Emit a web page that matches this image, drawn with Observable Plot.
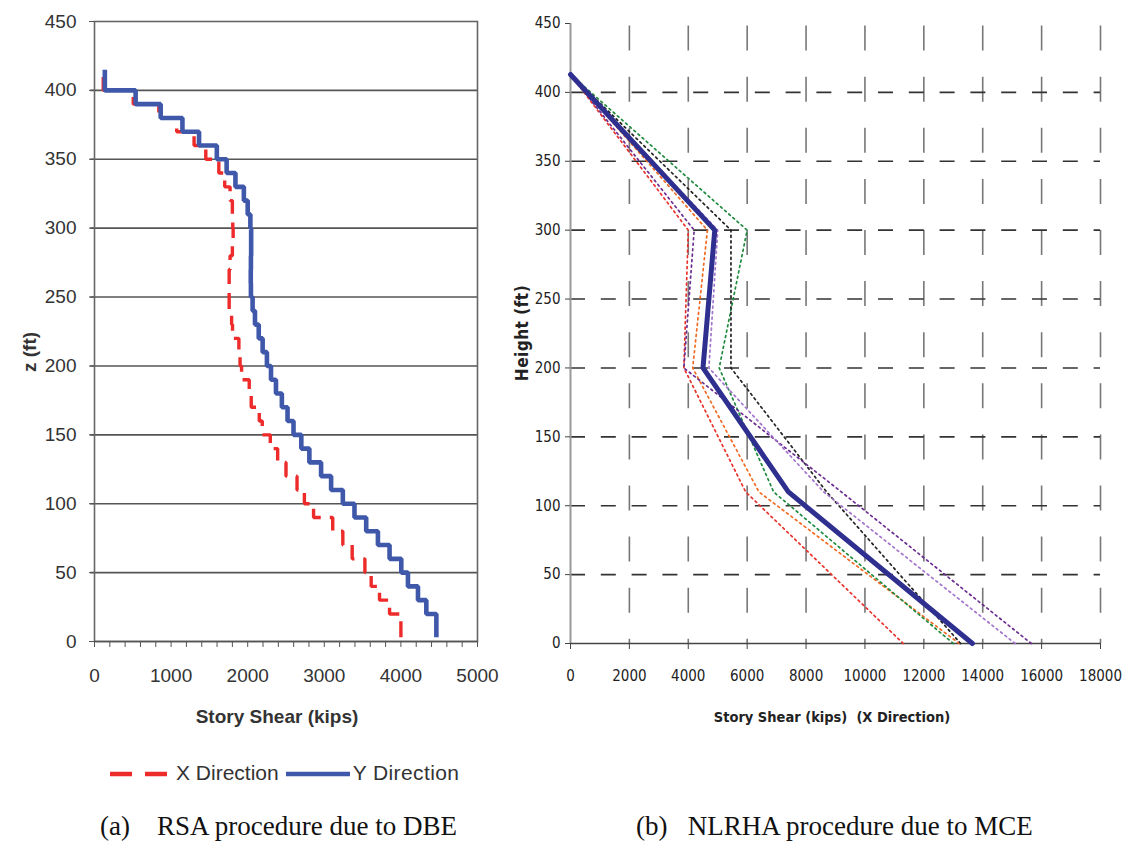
<!DOCTYPE html>
<html>
<head>
<meta charset="utf-8">
<script src="https://cdn.jsdelivr.net/npm/d3@7"></script>
<script src="https://cdn.jsdelivr.net/npm/@observablehq/plot@0.6"></script>
<style>
  html, body { margin: 0; padding: 0; background: #fff; }
  #page { position: relative; width: 1124px; height: 841px; overflow: hidden; background: #fff; }
  .abs { position: absolute; white-space: nowrap; }
  .lt { font-family: "Liberation Sans", Arial, sans-serif; color: #333; }
  .nr { font-family: "Liberation Sans Narrow", "Arial Narrow", "DejaVu Sans Condensed", sans-serif; color: #222; }
  .cap { font-family: "Liberation Serif", "Times New Roman", serif; color: #111; font-size: 27px; }
</style>
</head>
<body>
<div id="page"></div>
<script>
// ---------------- Data: (a) RSA procedure due to DBE ----------------
// story boundary elevations (ft), bottom to top
const floorZ = [3, 20, 30, 40, 50, 60, 70, 80, 90, 100, 110, 120, 130, 140, 150, 160, 170, 180, 190, 200,
  210, 220, 230, 240, 250, 260, 270, 280, 290, 300, 310, 320, 330, 340, 350, 360, 370, 380, 390, 400, 415];
// story shear (kips) per story, bottom to top
const shearXDir = [4000, 3852, 3721, 3612, 3530, 3364, 3242, 3110, 2860, 2740, 2644, 2500, 2391, 2295, 2190, 2151, 2046, 2020, 1920,
  1900, 1885, 1802, 1790, 1758, 1758, 1758, 1770, 1800, 1810, 1805, 1800, 1770, 1700, 1623, 1453, 1300, 1073, 840, 506, 114];
const shearYDir = [4463, 4332, 4223, 4092, 4005, 3852, 3700, 3547, 3394, 3242, 3089, 2958, 2805, 2700, 2598, 2520, 2446, 2369, 2304,
  2251, 2195, 2144, 2095, 2064, 2042, 2040, 2042, 2045, 2045, 2035, 2000, 1950, 1840, 1725, 1597, 1365, 1148, 864, 537, 135];
const xTicksA = [0, 1000, 2000, 3000, 4000, 5000];
const xMinorA = [0, 200, 400, 600, 800, 1000, 1200, 1400, 1600, 1800, 2000, 2200, 2400, 2600, 2800, 3000, 3200, 3400, 3600, 3800, 4000, 4200, 4400, 4600, 4800, 5000];
const yTicksA = [0, 50, 100, 150, 200, 250, 300, 350, 400, 450];

// ---------------- Data: (b) NLRHA procedure due to MCE ----------------
const heightsB = [0, 110, 200, 300, 413];
const meanShear = [13650, 7400, 4500, 4900, 0];
const gmRed = [11300, 5950, 3850, 4000, 0];
const gmOrange = [13200, 6400, 4150, 4650, 0];
const gmGreen = [13000, 6900, 5050, 6000, 0];
const gmBlack = [13250, 8700, 5450, 5450, 0];
const gmPurpleDark = [15650, 9200, 3850, 4200, 0];
const gmPurpleLight = [15100, 8600, 4700, 5000, 0];
const xTicksB = [0, 2000, 4000, 6000, 8000, 10000, 12000, 14000, 16000, 18000];
const yTicksB = [0, 50, 100, 150, 200, 250, 300, 350, 400, 450];

const page = document.getElementById("page");

function stepPoints(vals) {
  const pts = [];
  vals.forEach((v, i) => { pts.push({v, z: floorZ[i]}); pts.push({v, z: floorZ[i + 1]}); });
  return pts;
}
function profile(vals) { return vals.map((v, i) => ({v, z: heightsB[i]})); }

// ---------------- Chart (a) ----------------
const chartA = Plot.plot({
  width: 500, height: 700,
  marginLeft: 94, marginRight: 23, marginTop: 21, marginBottom: 59,
  x: {domain: [0, 5000]},
  y: {domain: [0, 450]},
  style: {fontFamily: "'Liberation Sans', Arial, sans-serif", fontSize: "19px", color: "#333", background: "transparent", overflow: "visible"},
  marks: [
    Plot.ruleY(yTicksA.filter(d => d > 0 && d < 450), {stroke: "#555", strokeWidth: 1.6, x1: -50, x2: 5000}),
    Plot.frame({stroke: "#666", strokeWidth: 1.6}),
    Plot.ruleY([0], {stroke: "#555", strokeWidth: 1.6}),
    Plot.axisX({ticks: xMinorA, tickSize: 6, tickPadding: 21, tickFormat: d => xTicksA.includes(d) ? String(d) : "", label: null, stroke: "#555"}),
    Plot.axisY({ticks: yTicksA, tickSize: 5, tickPadding: 13, label: null, stroke: "#555"}),
    Plot.line(stepPoints(shearXDir), {x: "v", y: "z", stroke: "#ee2b2b", strokeWidth: 3.4, strokeDasharray: "16,9", strokeLinejoin: "miter", strokeLinecap: "butt"}),
    Plot.line(stepPoints(shearYDir), {x: "v", y: "z", stroke: "#3f58aa", strokeWidth: 4.6, strokeLinejoin: "miter", strokeLinecap: "butt"})
  ]
});
chartA.style.position = "absolute";
chartA.style.left = "0px";
chartA.style.top = "0px";
page.appendChild(chartA);

// ---------------- Chart (b) ----------------
const dotted = [
  [gmRed, "#e8322b"],
  [gmOrange, "#f26a21"],
  [gmGreen, "#1e8a3e"],
  [gmBlack, "#222222"],
  [gmPurpleDark, "#6b2d90"],
  [gmPurpleLight, "#a274cc"]
];
const chartB = Plot.plot({
  width: 624, height: 700,
  marginLeft: 70, marginRight: 24, marginTop: 23, marginBottom: 57,
  x: {domain: [0, 18000]},
  y: {domain: [0, 450]},
  style: {fontFamily: "'Liberation Sans Narrow', 'Arial Narrow', 'DejaVu Sans Condensed', sans-serif", fontSize: "15px", color: "#222", background: "transparent", overflow: "visible"},
  marks: [
    Plot.ruleX(xTicksB.filter(d => d > 0), {stroke: "#777", strokeWidth: 1.6, strokeDasharray: "25,26.1", strokeDashoffset: 48.5}),
    Plot.ruleY(yTicksB.filter(d => d > 0 && d < 450), {stroke: "#333", strokeWidth: 1.6, strokeDasharray: "15,15.8"}),
    Plot.ruleX([0], {stroke: "#999", strokeWidth: 2}),
    Plot.ruleY([0], {stroke: "#444", strokeWidth: 1.6}),
    Plot.axisX({ticks: xTicksB, tickSize: 6, tickPadding: 21, tickFormat: d => String(d), label: null, stroke: "#444"}),
    Plot.axisY({ticks: yTicksB, tickSize: 5, tickPadding: 5, tickFormat: d => String(d), label: null, stroke: "#444"}),
    ...dotted.map(([vals, c]) => Plot.line(profile(vals), {x: "v", y: "z", stroke: c, strokeWidth: 1.7, strokeDasharray: "2,3.5"})),
    Plot.line(profile(meanShear), {x: "v", y: "z", stroke: "#2e2f8e", strokeWidth: 5, strokeLinejoin: "round"})
  ]
});
chartB.style.position = "absolute";
chartB.style.left = "500px";
chartB.style.top = "0px";
page.appendChild(chartB);

// ---------------- Titles, legend, captions ----------------
function addText(html, cls, css) {
  const d = document.createElement("div");
  d.className = "abs " + cls;
  d.innerHTML = html;
  Object.assign(d.style, css);
  page.appendChild(d);
  return d;
}
addText("Story Shear (kips)", "lt", {left: "277px", top: "717px", transform: "translate(-50%,-50%)", fontWeight: "bold", fontSize: "19px"});
addText("z (ft)", "lt", {left: "30px", top: "352px", transform: "translate(-50%,-50%) rotate(-90deg)", fontWeight: "bold", fontSize: "19px"});
addText("Story Shear (kips)&nbsp;&nbsp;(X Direction)", "nr", {left: "832px", top: "717px", transform: "translate(-50%,-50%)", fontWeight: "bold", fontSize: "14.5px"});
addText("Height (ft)", "nr", {left: "522px", top: "333px", transform: "translate(-50%,-50%) rotate(-90deg)", fontWeight: "bold", fontSize: "17px", letterSpacing: "0.5px"});

// legend
addText(
  '<svg width="62" height="10" style="vertical-align:middle"><line x1="0" y1="5" x2="62" y2="5" stroke="#ee2b2b" stroke-width="4.5" stroke-dasharray="22,13"/></svg>' +
  '<span style="margin-left:4px">X Direction</span>' +
  '<svg width="64" height="10" style="vertical-align:middle;margin-left:7px"><line x1="0" y1="5" x2="64" y2="5" stroke="#3f58aa" stroke-width="4.5"/></svg>' +
  '<span style="margin-left:3px;letter-spacing:0.4px">Y Direction</span>',
  "lt", {left: "110px", top: "773px", transform: "translateY(-50%)", fontSize: "21px", color: "#333"});

addText("(a)&nbsp;&nbsp;&nbsp;&nbsp;RSA procedure due to DBE", "cap", {left: "100px", top: "826px", transform: "translateY(-50%)"});
addText("(b)&nbsp;&nbsp;&nbsp;NLRHA procedure due to MCE", "cap", {left: "636px", top: "826px", transform: "translateY(-50%)"});
</script>
</body>
</html>
